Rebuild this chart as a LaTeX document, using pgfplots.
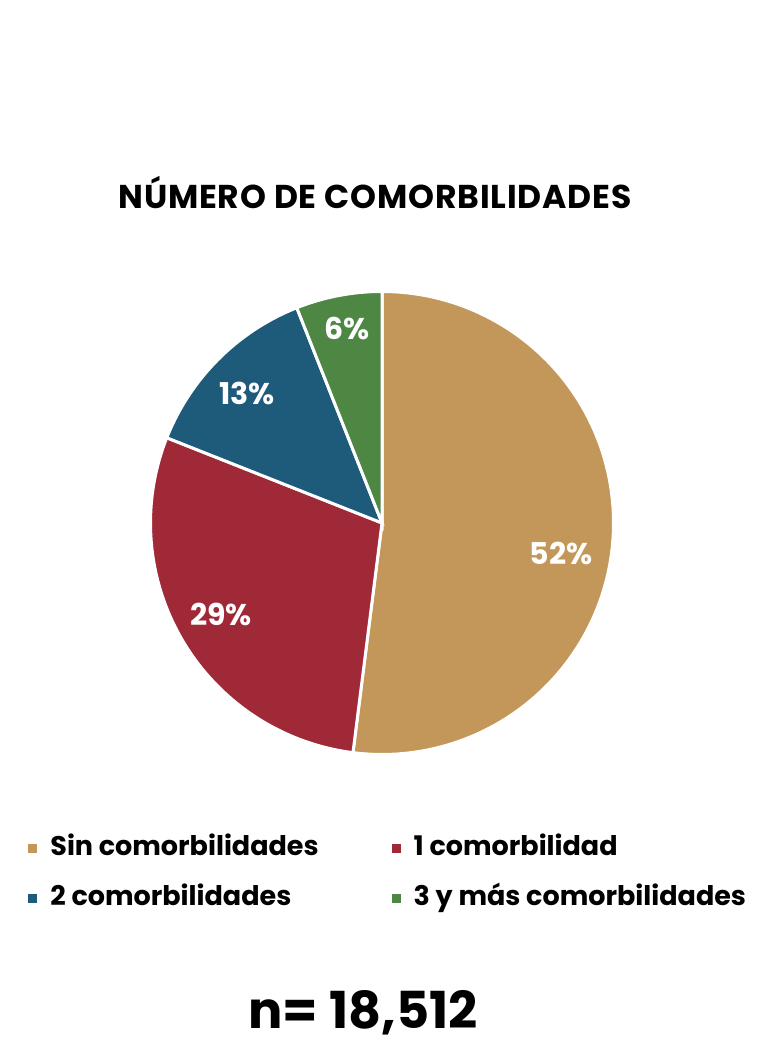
\documentclass[border=0pt]{standalone}
\usepackage{fontspec}
\setmainfont{Poppins}
\usepackage{pgfplots}
\pgfplotsset{compat=1.18}
\usepackage{pgfplotstable}

\definecolor{sinc}{HTML}{C29759}
\definecolor{unac}{HTML}{A02938}
\definecolor{dosc}{HTML}{1E5A7A}
\definecolor{tresc}{HTML}{4E8744}

% shares in percent
\pgfplotstableread{
share
52
29
13
6
}\shares

\pgfplotstablegetelem{0}{share}\of\shares \let\sA\pgfplotsretval
\pgfplotstablegetelem{1}{share}\of\shares \let\sB\pgfplotsretval
\pgfplotstablegetelem{2}{share}\of\shares \let\sC\pgfplotsretval
\pgfplotstablegetelem{3}{share}\of\shares \let\sD\pgfplotsretval

% angles, clockwise from 12 o'clock
\pgfmathsetmacro\aA{90}
\pgfmathsetmacro\aB{\aA-3.6*\sA}
\pgfmathsetmacro\aC{\aB-3.6*\sB}
\pgfmathsetmacro\aD{\aC-3.6*\sC}
\pgfmathsetmacro\aE{\aD-3.6*\sD}

\begin{document}
\begin{tikzpicture}
\begin{axis}[
    width=387pt, height=521pt,
    scale only axis,
    hide axis,
    clip=false,
    xmin=0, xmax=774,
    ymin=0, ymax=1042,
    legend columns=2,
    legend cell align=left,
    legend image code/.code={\fill[#1,draw=none] (0pt,-2.25pt) rectangle (4.5pt,2.25pt);},
    legend style={
        at={(axis cs:28,168)}, anchor=west,
        draw=none, fill=none, inner sep=0pt,
        font=\bfseries\fontsize{13.5}{16}\selectfont,
        nodes={inner sep=0pt, text height=10pt, text depth=3pt},
        row sep=12pt,
        /tikz/every odd column/.append style={column sep=6.5pt},
        /tikz/every even column/.append style={column sep=36.5pt},
    },
]
    \addplot[fill=sinc, draw=white, line width=1.5pt, domain=\aB:\aA, samples=120, variable=\t]
        ({382+231.5*cos(t)},{519+231.5*sin(t)}) -- (axis cs:382,519) -- cycle;
    \addlegendentry{Sin comorbilidades}
    \addplot[fill=unac, draw=white, line width=1.5pt, domain=\aC:\aB, samples=80, variable=\t]
        ({382+231.5*cos(t)},{519+231.5*sin(t)}) -- (axis cs:382,519) -- cycle;
    \addlegendentry{1 comorbilidad}
    \addplot[fill=dosc, draw=white, line width=1.5pt, domain=\aD:\aC, samples=50, variable=\t]
        ({382+231.5*cos(t)},{519+231.5*sin(t)}) -- (axis cs:382,519) -- cycle;
    \addlegendentry{2 comorbilidades}
    \addplot[fill=tresc, draw=white, line width=1.5pt, domain=\aE:\aD, samples=30, variable=\t]
        ({382+231.5*cos(t)},{519+231.5*sin(t)}) -- (axis cs:382,519) -- cycle;
    \addlegendentry{3 y más comorbilidades}

    % slice labels
    \begin{scope}[every node/.style={text=white, font=\bfseries\fontsize{15}{18}\selectfont}]
        \node at (axis cs:561,489) {52\%};
        \node at (axis cs:221,428) {29\%};
        \node at (axis cs:247,649) {13\%};
        \node at (axis cs:347,713) {6\%};
    \end{scope}

    \node[font=\bfseries\fontsize{16.5}{19}\selectfont, inner sep=0pt] at (axis cs:375,849)
        {\addfontfeature{LetterSpace=2.5}NÚMERO DE COMORBILIDADES};
    \node[font=\bfseries\fontsize{25.5}{30}\selectfont, inner sep=0pt] at (axis cs:363,29) {n= 18,512};

    \path (axis cs:0,0) rectangle (axis cs:774,1042);
\end{axis}
\end{tikzpicture}
\end{document}
